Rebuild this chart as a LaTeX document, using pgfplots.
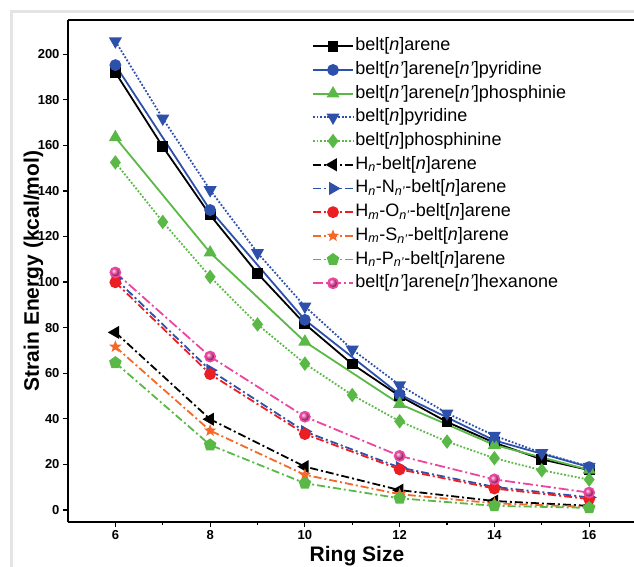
\documentclass[border=0pt]{standalone}
\usepackage{pgfplots}
\pgfplotsset{compat=1.18}
\usepackage{fontspec}
\setmainfont{Liberation Sans}
\definecolor{cblue}{RGB}{45,80,170}
\definecolor{cgreen}{RGB}{90,185,70}
\definecolor{cred}{RGB}{235,30,35}
\definecolor{corange}{RGB}{245,105,40}
\definecolor{cpink}{RGB}{235,70,160}
\definecolor{cframe}{RGB}{228,228,228}
\newcommand{\nn}{\textit{n}}
\newcommand{\np}{\textit{n'}}
\newcommand{\legfont}{\fontsize{18}{21}\selectfont}
\newcommand{\labfont}{\fontsize{21}{24}\selectfont\bfseries}
\pgfdeclareplotmark{fstar}{%
  \pgfpathmoveto{\pgfqpointpolar{90}{\pgfplotmarksize}}%
  \pgfpathlineto{\pgfqpointpolar{126}{0.42\pgfplotmarksize}}%
  \pgfpathlineto{\pgfqpointpolar{162}{\pgfplotmarksize}}%
  \pgfpathlineto{\pgfqpointpolar{198}{0.42\pgfplotmarksize}}%
  \pgfpathlineto{\pgfqpointpolar{234}{\pgfplotmarksize}}%
  \pgfpathlineto{\pgfqpointpolar{270}{0.42\pgfplotmarksize}}%
  \pgfpathlineto{\pgfqpointpolar{306}{\pgfplotmarksize}}%
  \pgfpathlineto{\pgfqpointpolar{342}{0.42\pgfplotmarksize}}%
  \pgfpathlineto{\pgfqpointpolar{18}{\pgfplotmarksize}}%
  \pgfpathlineto{\pgfqpointpolar{54}{0.42\pgfplotmarksize}}%
  \pgfpathclose\pgfusepathqfill}
\begin{document}
\begin{tikzpicture}
\draw[cframe, line width=3pt] (-56pt,-60pt) -- (-56pt,510pt) -- (600pt,510pt);
\begin{axis}[
  scale only axis,
  width=578pt, height=502pt,
  xmin=5, xmax=17.2, ymin=-5.3, ymax=215,
  axis x line*=box, axis y line*=left,
  xtick pos=bottom, ytick pos=left,
  xtick={6,8,...,16}, minor xtick={7,9,...,17},
  ytick={0,20,...,200},
  tick align=outside,
  major tick length=5pt, minor tick length=3pt,
  every tick/.style={black, line width=1.2pt},
  axis line style={line width=1.8pt},
  /pgf/number format/assume math mode=true,
  every tick label/.append style={font=\fontsize{13}{15}\selectfont\bfseries},
  xlabel={\labfont Ring Size},
  ylabel={\labfont Strain Energy (kcal/mol)},
  every axis x label/.style={at={(axis description cs:0.5,-0.0777)}, anchor=base, font=\labfont},
  every axis y label/.style={at={(axis description cs:-0.0505,0.5)}, rotate=90, anchor=base, font=\labfont},
  legend style={draw=none, fill=none, at={(axis description cs:0.422,0.970)}, anchor=north west,
    inner sep=0pt, font=\legfont, cells={anchor=west},
    nodes={inner sep=1.5pt, text height=14pt, text depth=5pt, font=\legfont}, row sep=1.7pt},
  legend image code/.code={\draw[mark repeat=2,mark phase=2,#1] plot coordinates {(0pt,0pt)(20pt,0pt)(40pt,0pt)};},
  every axis plot/.append style={line width=1.8pt},
]
\addplot[black, mark=square*, mark size=4.5pt, mark options={solid}] coordinates {(6,192)(7,159.4)(8,129.4)(9,103.8)(10,81.6)(11,64)(12,50)(13,38.6)(14,29.5)(15,22.2)(16,17.5)};
\addlegendentry{\legfont belt[\nn]arene}
\addplot[cblue, mark=*, mark size=5pt, mark options={solid}] coordinates {(6,195.2)(8,131.6)(10,83.4)(12,50.7)(14,30.5)(16,18.8)};
\addlegendentry{\legfont belt[\np]arene[\np]pyridine}
\addplot[cgreen, mark=triangle*, mark size=5.8pt, mark options={solid}] coordinates {(6,163.5)(8,112.9)(10,73.8)(12,46.5)(14,28.5)(16,17.6)};
\addlegendentry{\legfont belt[\np]arene[\np]phosphinie}
\addplot[cblue, dash pattern=on 1.8pt off 1.8pt, mark=triangle*, mark size=5.8pt, mark options={solid, rotate=180}] coordinates {(6,205.7)(7,171.8)(8,140.4)(9,112.8)(10,89.3)(11,70.4)(12,54.8)(13,42.4)(14,32.6)(15,25)(16,19)};
\addlegendentry{\legfont belt[\nn]pyridine}
\addplot[cgreen, dash pattern=on 1.8pt off 1.8pt, mark=diamond*, mark size=5.8pt, mark options={solid}] coordinates {(6,152.5)(7,126.4)(8,102.3)(9,81.4)(10,64.2)(11,50.4)(12,38.9)(13,30)(14,22.7)(15,17.4)(16,13.3)};
\addlegendentry{\legfont belt[\nn]phosphinine}
\addplot[black, dash pattern=on 8pt off 3pt on 2pt off 3pt, mark=triangle*, mark size=5.8pt, mark options={solid, rotate=90}] coordinates {(6,77.9)(8,39.8)(10,19)(12,8.7)(14,3.9)(16,1.8)};
\addlegendentry{\legfont H\textsubscript{\nn}-belt[\nn]arene}
\addplot[cblue, dash pattern=on 8pt off 3pt on 2pt off 3pt, mark=triangle*, mark size=5.8pt, mark options={solid, rotate=-90}] coordinates {(6,101.5)(8,61.3)(10,34.4)(12,18.6)(14,10.1)(16,5.5)};
\addlegendentry{\legfont H\textsubscript{\nn}-N\textsubscript{\np}-belt[\nn]arene}
\addplot[cred, dash pattern=on 8pt off 3pt on 2pt off 3pt, mark=*, mark size=5pt, mark options={solid}] coordinates {(6,99.9)(8,59.6)(10,33.3)(12,17.8)(14,9.4)(16,4.8)};
\addlegendentry{\legfont H\textsubscript{\textit{m}}-O\textsubscript{\np}-belt[\nn]arene}
\addplot[corange, dash pattern=on 8pt off 3pt on 2pt off 3pt, mark=fstar, mark size=6.5pt, mark options={solid}] coordinates {(6,71.6)(8,34.8)(10,15.4)(12,6.9)(14,2.9)(16,1.3)};
\addlegendentry{\legfont H\textsubscript{\textit{m}}-S\textsubscript{\np}-belt[\nn]arene}
\addplot[cgreen, dash pattern=on 8pt off 3pt on 2pt off 3pt, mark=pentagon*, mark size=5.5pt, mark options={solid}] coordinates {(6,64.6)(8,28.5)(10,11.7)(12,5.1)(14,1.8)(16,0.9)};
\addlegendentry{\legfont H\textsubscript{\nn}-P\textsubscript{\np}-belt[\nn]arene}
\addplot[cpink, dash pattern=on 10pt off 3pt on 2pt off 3pt, mark=ball, mark size=5pt, mark options={solid, ball color=cpink}] coordinates {(6,104.2)(8,67.3)(10,40.9)(12,23.7)(14,13.4)(16,7.6)};
\addlegendentry{\legfont belt[\np]arene[\np]hexanone}
\end{axis}
\pgfresetboundingbox
\useasboundingbox (-68pt,-44pt) rectangle (566pt,522pt);
\end{tikzpicture}
\end{document}
